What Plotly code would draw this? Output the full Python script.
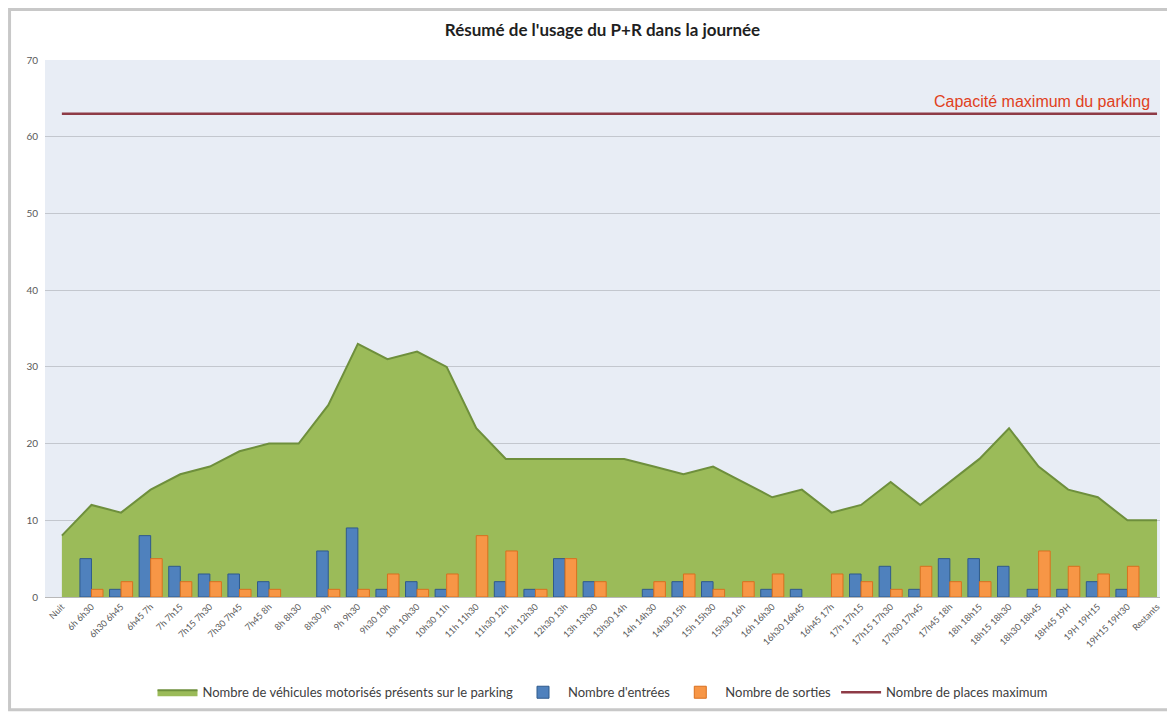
import plotly.graph_objects as go

# Données
heures = ["Nuit", "6h 6h30", "6h30 6h45", "6h45 7h", "7h 7h15", "7h15 7h30", "7h30 7h45",
          "7h45 8h", "8h 8h30", "8h30 9h", "9h 9h30", "9h30 10h", "10h 10h30", "10h30 11h",
          "11h 11h30", "11h30 12h", "12h 12h30", "12h30 13h", "13h 13h30", "13h30 14h",
          "14h 14h30", "14h30 15h", "15h 15h30", "15h30 16h", "16h 16h30", "16h30 16h45",
          "16h45 17h", "17h 17h15", "17h15 17h30", "17h30 17h45", "17h45 18h", "18h 18h15",
          "18h15 18h30", "18h30 18h45", "18H45 19H", "19H 19H15", "19H15 19H30", "Restants"]

presents = [8, 12, 11, 14, 16, 17, 19, 20, 20, 25, 33, 31, 32, 30, 22, 18, 18, 18, 18, 18,
            17, 16, 17, 15, 13, 14, 11, 12, 15, 12, 15, 18, 22, 17, 14, 13, 10, 10]
entrees = [0, 5, 1, 8, 4, 3, 3, 2, 0, 6, 9, 1, 2, 1, 0, 2, 1, 5, 2, 0,
           1, 2, 2, 0, 1, 1, 0, 3, 4, 1, 5, 5, 4, 1, 1, 2, 1, 0]
sorties = [0, 1, 2, 5, 2, 2, 1, 1, 0, 1, 1, 3, 1, 3, 8, 6, 1, 5, 2, 0,
           2, 3, 1, 2, 3, 0, 3, 2, 1, 4, 2, 2, 0, 6, 4, 3, 4, 0]
capacite_max = 63
places_max = [capacite_max] * len(heures)


def sans_zero(vals):
    # Excel ne dessine rien pour une barre à 0
    return [v if v else None for v in vals]


fig = go.Figure()

# Aire : véhicules présents
fig.add_trace(go.Scatter(
    x=heures, y=presents, mode='lines', fill='tozeroy',
    fillcolor='#9bbb59', line=dict(color='#6e8f3c', width=2),
    name='Nombre de véhicules motorisés présents sur le parking'
))

# Barres sur un axe superposé pour passer devant l'aire
fig.add_trace(go.Bar(
    x=heures, y=sans_zero(entrees), yaxis='y2', name="Nombre d'entrées",
    marker=dict(color='#4f81bd', line=dict(color='#2f5a8c', width=1))
))
fig.add_trace(go.Bar(
    x=heures, y=sans_zero(sorties), yaxis='y2', name='Nombre de sorties',
    marker=dict(color='#f79646', line=dict(color='#d9701f', width=1))
))

# Ligne de capacité
fig.add_trace(go.Scatter(
    x=heures, y=places_max, mode='lines',
    line=dict(color='#8e3b46', width=2.5),
    name='Nombre de places maximum'
))

fig.add_annotation(
    x=1.0, xref='paper', xanchor='right', xshift=-8,
    y=capacite_max, yref='y', yanchor='bottom', yshift=2,
    text='Capacité maximum du parking', showarrow=False,
    font=dict(family='Liberation Sans, Arial', size=16, color='#e0401c')
)

# Cadre autour de l'image
fig.add_shape(type='rect', xref='paper', yref='paper',
              x0=-0.0318, x1=1.0126, y0=-0.21, y1=1.094,
              line=dict(color='#c8c8c8', width=3), layer='above')

# la page ajoute 8 px de marge : la figure fait 1167 x 704
fig.update_layout(
    width=1167, height=704,
    margin=dict(l=37, r=15, t=52, b=115),
    paper_bgcolor='white',
    plot_bgcolor='#e8edf5',
    font=dict(family='Lato, Open Sans, sans-serif', color='#404040'),
    title=dict(text="<b>Résumé de l'usage du P+R dans la journée</b>",
               x=0.5, xanchor='center', xref='paper', y=0.969, yanchor='middle',
               font=dict(size=17, color='#1f1f1f')),
    barmode='group', bargap=0.22, bargroupgap=0,
    showlegend=True,
    legend=dict(orientation='h', x=0.5, xanchor='center',
                yref='container', y=0.028, yanchor='middle',
                font=dict(size=13, color='#404040'), itemwidth=40,
                traceorder='normal'),
    xaxis=dict(type='category', range=[-0.57, 37.1], tickangle=-45, automargin=False,
               tickfont=dict(size=9, color='#595959'),
               showgrid=False, showline=True, linecolor='#b8b8b8', ticks=''),
    yaxis=dict(range=[0, 70], dtick=10, showgrid=True, gridcolor='#c3c7ce',
               automargin=False, ticklabelstandoff=6,
               tickfont=dict(size=10, color='#595959'), zeroline=False, ticks=''),
    yaxis2=dict(range=[0, 70], overlaying='y', visible=False),
)

fig.write_html("out.html")
